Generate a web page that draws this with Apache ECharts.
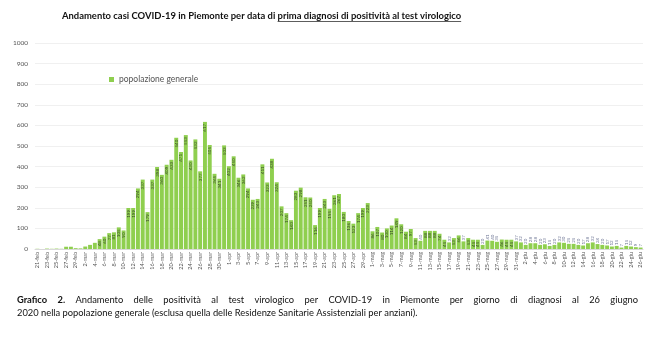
<!DOCTYPE html>
<html>
<head>
<meta charset="utf-8">
<script src="https://cdn.jsdelivr.net/npm/echarts@6/dist/echarts.min.js"></script>
<style>
  html, body { margin: 0; padding: 0; background: #fff; }
  #grafico { width: 650px; height: 353px; }
</style>
</head>
<body>
<div id="grafico"></div>
<script>
// mesi e giorni (21 febbraio - 26 giugno 2020)
var mesi = [['feb', 21, 29], ['mar', 1, 31], ['apr', 1, 30], ['mag', 1, 31], ['giu', 1, 26]];
var giorni = [];
mesi.forEach(function(m) {
  for (var d = m[1]; d <= m[2]; d++) giorni.push(d + '-' + m[0]);
});

// casi per data di prima diagnosi (popolazione generale)
var casi = [
  1, 0, 2, 1, 2, 1, 11, 11, 4, 3,
  12, 20, 30, 48, 60, 77, 81, 105, 90, 199,
  199, 294, 337, 179, 337, 398, 360, 409, 433, 540,
  471, 553, 430, 532, 377, 617, 505, 365, 341, 503,
  402, 450, 346, 362, 294, 239, 243, 411, 323, 438,
  324, 207, 174, 140, 283, 298, 251, 250, 116, 199,
  243, 195, 261, 267, 180, 136, 123, 174, 199, 223,
  86, 107, 80, 100, 114, 149, 120, 84, 97, 53,
  40, 88, 88, 88, 74, 45, 32, 53, 66, 37,
  53, 45, 45, 20, 41, 40, 35, 46, 45, 45,
  37, 32, 20, 28, 28, 20, 23, 15, 20, 32,
  30, 25, 25, 20, 17, 28, 32, 24, 20, 17,
  12, 15, 7, 15, 12, 9, 7
];
var nomeSerie = 'popolazione generale';
var assey = { min: 0, max: 1000, passo: 100 };

var titolo1 = 'Andamento casi COVID-19 in Piemonte per data di ';
var titolo2 = 'prima diagnosi di positività al test virologico';
var didascalia1 = 'Andamento delle positività al test virologico per COVID-19 in Piemonte per giorno di diagnosi al 26 giugno';
var didascalia2 = '2020 nella popolazione generale (esclusa quella delle Residenze Sanitarie Assistenziali per anziani).';

var FONT = 'Lato';
var verde = '#8fcf4f';

// misura del testo per adattare titolo e didascalia
var ctx = document.createElement('canvas').getContext('2d');
function larghezza(testo, font) {
  ctx.font = font;
  return ctx.measureText(testo).width;
}

// titolo: adattato a ~400px, parte destra sottolineata
var fsTit = 10 * 400 / larghezza(titolo1 + titolo2, 'bold 10px ' + FONT);
var fTit = 'bold ' + fsTit.toFixed(2) + 'px ' + FONT;
var w1 = larghezza(titolo1, fTit), w2 = larghezza(titolo2, fTit);
var xTit = 62;
var grafiche = [
  { type: 'text', x: xTit, y: 16, style: { text: titolo1 + titolo2, font: fTit, fill: '#111', verticalAlign: 'middle' } },
  { type: 'line', shape: { x1: xTit + w1, y1: 21.5, x2: xTit + w1 + w2, y2: 21.5 }, style: { stroke: '#333', lineWidth: 0.8 } }
];

// didascalia: seconda riga a ~401px, prima riga giustificata 17..638
var fsDid = 10 * 401 / larghezza(didascalia2, '10px ' + FONT);
var fDid = fsDid.toFixed(2) + 'px ' + FONT;
var fDidB = 'bold ' + fDid;
var parole = [{ t: 'Grafico', f: fDidB }, { t: '2.', f: fDidB }].concat(
  didascalia1.split(' ').map(function(p) { return { t: p, f: fDid }; })
);
var totale = 0;
parole.forEach(function(p) { p.w = larghezza(p.t, p.f); totale += p.w; });
var spazio = (638 - 17 - totale) / (parole.length - 1);
var xp = 17;
parole.forEach(function(p) {
  grafiche.push({ type: 'text', x: xp, y: 300, style: { text: p.t, font: p.f, fill: '#111', verticalAlign: 'middle' } });
  xp += p.w + spazio;
});
grafiche.push({ type: 'text', x: 17, y: 312.5, style: { text: didascalia2, font: fDid, fill: '#111', verticalAlign: 'middle' } });

// dati delle barre: etichette dentro le barre alte, sopra quelle basse
var datiBarre = casi.map(function(v, i) {
  if (v < 45 && i > 60) {
    return { value: v, label: { position: 'top', align: 'left', color: '#6b7392', distance: 1 } };
  }
  if (v < 45) return { value: v, label: { show: false } };
  return v;
});

var node = document.getElementById('grafico');
var chart = echarts.init(node, null, { renderer: 'canvas' });
var option = {
  backgroundColor: '#fff',
  animation: false,
  textStyle: { fontFamily: FONT },
  graphic: grafiche,
  legend: {
    data: [nomeSerie],
    left: 104,
    top: 70,
    itemWidth: 5,
    itemHeight: 5,
    itemGap: 4,
    icon: 'rect',
    textStyle: { fontSize: 8.5, color: '#555', fontFamily: FONT }
  },
  grid: { left: 35, right: 7, top: 43, bottom: 104 },
  xAxis: {
    type: 'category',
    data: giorni,
    axisTick: { show: false },
    axisLine: { lineStyle: { color: '#d9d9d9' } },
    axisLabel: { interval: 1, rotate: 90, fontSize: 5.5, color: '#555', margin: 3 }
  },
  yAxis: {
    type: 'value',
    min: assey.min,
    max: assey.max,
    interval: assey.passo,
    axisLine: { show: false },
    axisTick: { show: false },
    axisLabel: {
      fontSize: 6.5,
      color: '#555',
      margin: 7,
      formatter: function(v) { return String(v); }
    },
    splitLine: { lineStyle: { color: '#ececec', width: 0.8 } }
  },
  series: [{
    name: nomeSerie,
    type: 'bar',
    data: datiBarre,
    barCategoryGap: '18%',
    itemStyle: { color: verde },
    label: {
      show: true,
      position: 'insideTop',
      rotate: 90,
      align: 'right',
      verticalAlign: 'middle',
      distance: 2,
      fontSize: 4.5,
      color: '#3a4a2a'
    }
  }]
};
chart.setOption(option);
</script>
</body>
</html>
